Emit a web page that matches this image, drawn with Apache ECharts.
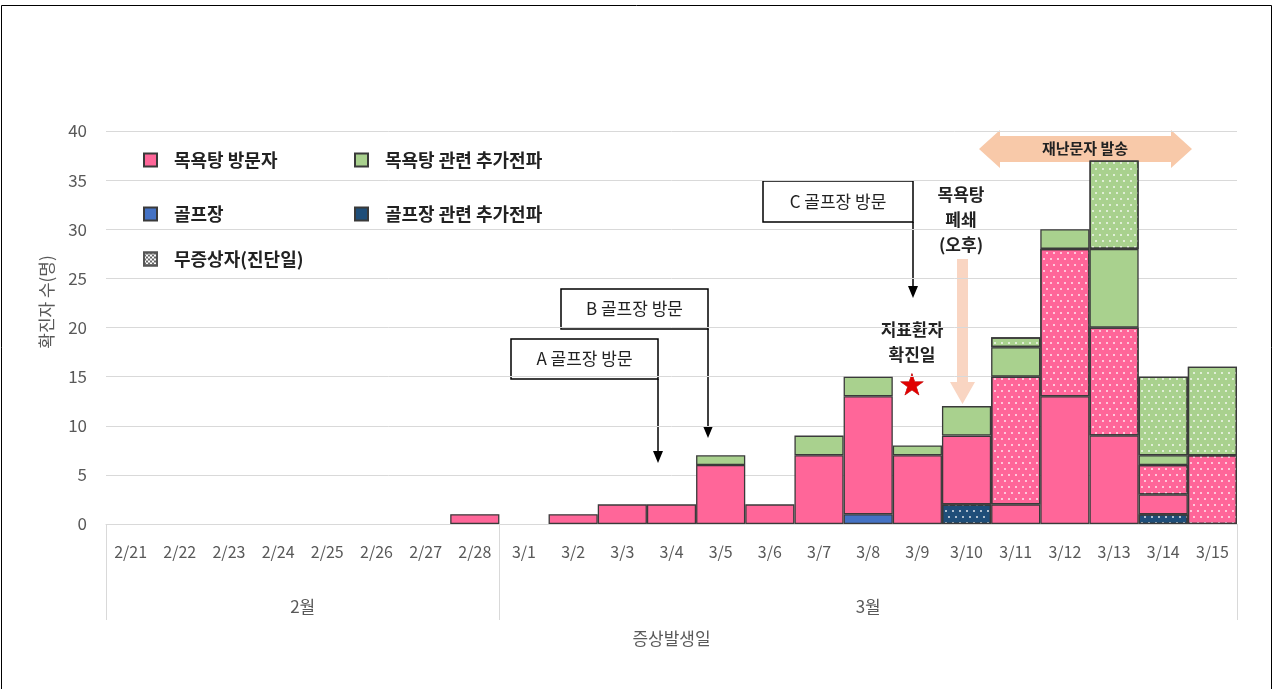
<!DOCTYPE html>
<html>
<head>
<meta charset="utf-8">
<script src="https://cdn.jsdelivr.net/npm/echarts@6/dist/echarts.min.js"></script>
<style>
  html, body { margin: 0; padding: 0; background: #fff; }
  #chart { width: 1273px; height: 689px; }
</style>
</head>
<body>
<div id="chart"></div>
<script>
// 증상발생일별 확진자 수
const dates = ['2/21', '2/22', '2/23', '2/24', '2/25', '2/26', '2/27', '2/28',
  '3/1', '3/2', '3/3', '3/4', '3/5', '3/6', '3/7', '3/8', '3/9', '3/10',
  '3/11', '3/12', '3/13', '3/14', '3/15'];
const monthNames = ['2월', '3월'];
const monthDays = [8, 15];

const golf =            [0,0,0,0,0,0,0,0, 0,0,0,0,0,0,0,1,0,0, 0,0,0,0,0];
const golfSpreadAsym =  [0,0,0,0,0,0,0,0, 0,0,0,0,0,0,0,0,0,2, 0,0,0,1,0];
const bathVisitor =     [0,0,0,0,0,0,0,1, 0,1,2,2,6,2,7,12,7,7, 2,13,9,2,0];
const bathVisitorAsym = [0,0,0,0,0,0,0,0, 0,0,0,0,0,0,0,0,0,0, 13,15,11,3,7];
const bathSpread =      [0,0,0,0,0,0,0,0, 0,0,0,0,1,0,2,2,1,3, 3,2,8,1,0];
const bathSpreadAsym =  [0,0,0,0,0,0,0,0, 0,0,0,0,0,0,0,0,0,0, 1,0,9,8,9];

const FONT = '"Noto Sans CJK KR", "Noto Sans", sans-serif';
const PINK = '#FF6699', GREEN = '#A9D18E', BLUE = '#4472C4', NAVY = '#1F4E79';

const dots = {
  symbol: 'circle',
  symbolSize: 1,
  color: 'rgba(255,255,255,0.85)',
  dashArrayX: [[1.6, 4.4], [0, 3, 1.6, 1.4]],
  dashArrayY: [1.6, 3.4]
};

function barSeries(name, values, color, dotted) {
  return {
    name: name,
    type: 'bar',
    stack: 'total',
    barCategoryGap: 0,
    data: values.map(v => v || null),
    itemStyle: {
      color: color,
      borderColor: '#3a3a3a',
      borderWidth: 1.3,
      decal: dotted ? dots : null
    }
  };
}

// 월 구분선과 월 라벨 위치 (카테고리 인덱스 기준)
const monthBounds = [-0.5];
const monthCenters = [];
monthDays.forEach(n => {
  const start = monthBounds[monthBounds.length - 1];
  monthCenters.push(start + n / 2);
  monthBounds.push(start + n);
});

function arrowDown(x, y1, y2) {
  return [
    { type: 'line', shape: { x1: x, y1: y1, x2: x, y2: y2 - 10 }, style: { stroke: '#000', lineWidth: 1.5 } },
    { type: 'polygon', shape: { points: [[x - 5, y2 - 12], [x + 5, y2 - 12], [x, y2]] }, style: { fill: '#000' } }
  ];
}

function labelBox(x, y, w, h, text) {
  return [
    { type: 'rect', shape: { x: x, y: y, width: w, height: h }, style: { fill: '#fff', stroke: '#000', lineWidth: 1.5 } },
    { type: 'text', x: x + w / 2, y: y + h / 2, style: { text: text, font: '17px ' + FONT, fill: '#222', align: 'center', verticalAlign: 'middle' } }
  ];
}

function boldText(x, y, text, size) {
  return { type: 'text', x: x, y: y, style: { text: text, font: 'bold ' + (size || 17) + 'px ' + FONT, fill: '#222', align: 'center', verticalAlign: 'middle', lineHeight: 25 } };
}

const legendText = { fontFamily: FONT, fontSize: 18, fontWeight: 'bold', color: '#222', padding: [0, 0, 0, 12] };
function legendAt(name, left, top, plain) {
  const item = plain ? { name: name, itemStyle: { decal: 'none' } } : name;
  return { data: [item], left: left, top: top, itemWidth: 13, itemHeight: 13, icon: 'rect', textStyle: legendText, selectedMode: false };
}

const chart = echarts.init(document.getElementById('chart'));
chart.setOption({
  animation: false,
  backgroundColor: '#fff',
  textStyle: { fontFamily: FONT },
  grid: { left: 106, right: 36, top: 131, bottom: 165 },
  legend: [
    legendAt('목욕탕 방문자', 138, 146),
    legendAt('골프장', 138, 200),
    legendAt('무증상자(진단일)', 138, 245),
    legendAt('목욕탕 관련 추가전파', 349, 146),
    legendAt('골프장 관련 추가전파', 349, 200, true)
  ],
  xAxis: [{
    type: 'category',
    data: dates,
    axisLine: { lineStyle: { color: '#D9D9D9' } },
    axisTick: { show: false },
    axisLabel: { color: '#595959', fontSize: 16, margin: 20, interval: 0 },
    name: '증상발생일',
    nameLocation: 'middle',
    nameGap: 106,
    nameTextStyle: { color: '#595959', fontSize: 17 }
  }, {
    type: 'value',
    position: 'bottom',
    min: -0.5,
    max: dates.length - 0.5,
    axisLine: { show: false },
    splitLine: { show: false },
    axisTick: { show: true, customValues: monthBounds, length: 96, lineStyle: { color: '#D9D9D9' } },
    axisLabel: {
      customValues: monthCenters,
      margin: 74,
      color: '#595959',
      fontSize: 17,
      formatter: v => monthNames[monthCenters.indexOf(v)]
    }
  }],
  yAxis: {
    type: 'value',
    min: 0,
    max: 40,
    interval: 5,
    axisLine: { show: false },
    axisTick: { show: false },
    splitLine: { lineStyle: { color: '#D9D9D9' } },
    axisLabel: { color: '#595959', fontSize: 17, margin: 19 }
  },
  series: [
    barSeries('골프장', golf, BLUE, false),
    barSeries('골프장 관련 추가전파', golfSpreadAsym, NAVY, true),
    barSeries('목욕탕 방문자', bathVisitor, PINK, false),
    barSeries('목욕탕 방문자(무증상)', bathVisitorAsym, PINK, true),
    barSeries('목욕탕 관련 추가전파', bathSpread, GREEN, false),
    barSeries('목욕탕 관련 추가전파(무증상)', bathSpreadAsym, GREEN, true),
    {
      // 범례 전용 (무증상 표시)
      name: '무증상자(진단일)',
      type: 'bar',
      stack: 'total',
      barCategoryGap: 0,
      data: [],
      itemStyle: {
        color: '#fff',
        borderColor: '#555',
        borderWidth: 1,
        decal: { symbol: 'rect', symbolSize: 1, color: '#666', dashArrayX: [[1.5, 1.5], [0, 1.5, 1.5, 0]], dashArrayY: [1.5, 0] }
      }
    }
  ],
  graphic: [
    { type: 'rect', shape: { x: 1.5, y: 5.5, width: 1270, height: 700 }, style: { fill: null, stroke: '#000', lineWidth: 1 } },
    { type: 'text', x: 47, y: 302, rotation: Math.PI / 2, style: { text: '확진자 수(명)', font: '17px ' + FONT, fill: '#595959', align: 'center', verticalAlign: 'middle' } },
    ...labelBox(511, 339, 147, 40, 'A 골프장 방문'),
    ...arrowDown(658, 379, 463),
    ...labelBox(561, 289, 147, 40, 'B 골프장 방문'),
    ...arrowDown(708, 329, 438),
    ...labelBox(763, 181, 150, 41, 'C 골프장 방문'),
    ...arrowDown(913, 222, 298),
    boldText(961, 220, '목욕탕\n폐쇄\n(오후)'),
    { type: 'polygon', shape: { points: [[957, 259], [968, 259], [968, 382], [975, 382], [962.5, 404], [950, 382], [957, 382]] }, style: { fill: '#F9D5C2' } },
    boldText(912, 342, '지표환자\n확진일'),
    { type: 'text', x: 912, y: 387, style: { text: '★', font: '30px "DejaVu Sans"', fill: '#E00000', stroke: '#A00000', lineWidth: 0.5, align: 'center', verticalAlign: 'middle' } },
    { type: 'polygon', shape: { points: [[979, 149], [1000, 130], [1000, 136], [1171, 136], [1171, 130], [1192, 149], [1171, 168], [1171, 162], [1000, 162], [1000, 168]] }, style: { fill: '#F8C9A9' } },
    boldText(1085, 148, '재난문자 발송', 15)
  ]
});
</script>
</body>
</html>
